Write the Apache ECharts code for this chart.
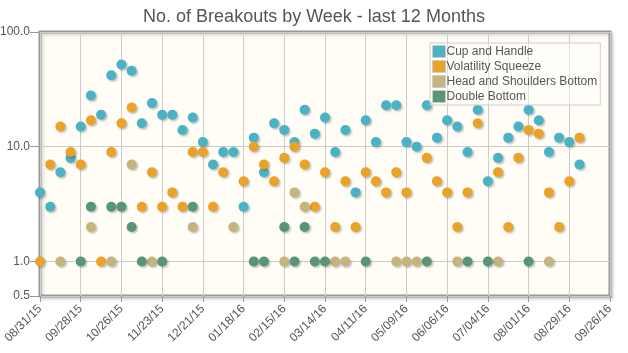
<!DOCTYPE html>
<html>
<head>
<meta charset="utf-8">
<script src="https://cdn.jsdelivr.net/npm/echarts@6/dist/echarts.min.js"></script>
<style>
  html, body { margin: 0; padding: 0; background: #fff; }
  #chart { width: 628px; height: 353px; }
</style>
</head>
<body>
<div id="chart"></div>
<script>
// tick labels, one every 4 weeks (x value = week index from 08/31/15)
const tickLabels = ['08/31/15', '09/28/15', '10/26/15', '11/23/15', '12/21/15', '01/18/16', '02/15/16',
  '03/14/16', '04/11/16', '05/09/16', '06/06/16', '07/04/16', '08/01/16', '08/29/16', '09/26/16'];

const seriesNames = ['Cup and Handle', 'Volatility Squeeze', 'Head and Shoulders Bottom', 'Double Bottom'];

// weekly counts, weeks 0..53
const cupHandle = [
  4, 3, 6, 8, 15, 28, 19, 42, 52, 46,
  16, 24, 19, 19, 14, 18, 11, 7, 9, 9,
  3, 12, 6, 16, 14, 11, 21, 13, 18, 9,
  14, 4, 17, 11, 23, 23, 11, 10, 23, 12,
  17, 15, 9, 21, 5, 8, 12, 15, 21, 17,
  9, 12, 11, 7];
const volSqueeze = [
  1, 7, 15, 9, 7, 17, 1, 9, 16, 22,
  3, 6, 3, 4, 3, 9, 9, 3, 6, null,
  5, 10, 7, 5, 8, 10, 7, 3, 6, 2,
  5, 2, 6, 5, 4, 6, 4, null, 8, 5,
  4, 2, 4, 16, null, 6, 2, 8, 14, 13,
  4, 2, 5, 12];
const headShoulders = [
  null, null, 1, null, null, 2, null, 1, null, 7,
  null, 1, null, null, null, 2, null, null, null, 2,
  null, null, null, null, 1, 4, 3, null, null, 1,
  1, null, null, null, null, 1, 1, 1, null, null,
  null, 1, null, null, null, 1, null, null, null, null,
  1, null, null, null];
const doubleBottom = [
  null, null, null, null, 1, 3, null, 3, 3, 2,
  1, null, 1, null, null, 3, null, null, null, null,
  null, 1, 1, null, 2, 1, 2, 1, 1, null,
  null, null, 1, null, null, null, null, null, 1, null,
  null, null, 1, null, 1, null, null, null, 1, null,
  null, null, null, null];

const colors = ['#4bb2c5', '#eaa228', '#c5b47f', '#579575'];

function toPoints(arr) {
  const out = [];
  arr.forEach((v, i) => { if (v != null) out.push([i, v]); });
  return out;
}

const chart = echarts.init(document.getElementById('chart'));
const font = 'Liberation Sans, Arial, sans-serif';

chart.setOption({
  animation: false,
  color: colors,
  textStyle: { fontFamily: font },
  title: {
    text: 'No. of Breakouts by Week - last 12 Months',
    left: 'center',
    top: 3,
    textStyle: { fontSize: 18, fontWeight: 'normal', color: '#555', fontFamily: font }
  },
  legend: {
    orient: 'vertical',
    left: 430,
    top: 43,
    icon: 'rect',
    itemWidth: 13,
    itemHeight: 12,
    itemGap: 2,
    padding: [2, 3, 2, 2],
    borderColor: '#ccc',
    borderWidth: 1,
    backgroundColor: 'rgba(255,255,255,0.4)',
    itemStyle: { borderColor: '#ccc', borderWidth: 1 },
    textStyle: { fontSize: 12, color: '#555', padding: [0, 0, 0, -4] },
    data: seriesNames
  },
  grid: {
    left: 40, right: 18, top: 32, bottom: 57,
    outerBoundsMode: 'none',
    containLabel: false,
    show: true,
    backgroundColor: '#fffdf6',
    borderColor: '#999',
    borderWidth: 3,
    shadowColor: 'rgba(0,0,0,0.15)',
    shadowBlur: 3,
    shadowOffsetX: 2,
    shadowOffsetY: 2
  },
  xAxis: {
    type: 'value',
    min: 0,
    max: 56,
    interval: 4,
    axisLine: { show: false },
    axisTick: { show: true, length: 6, lineStyle: { color: '#999' } },
    splitLine: { show: true, lineStyle: { color: '#ccc', width: 1 } },
    axisLabel: {
      rotate: 45,
      fontSize: 12,
      color: '#555',
      margin: 11,
      formatter: v => tickLabels[Math.round(v / 4)]
    }
  },
  yAxis: {
    type: 'log',
    logBase: 10,
    min: 0.5,
    max: 100,
    axisLine: { show: false },
    axisTick: { show: true, length: 10, lineStyle: { color: '#999' } },
    splitLine: { show: true, lineStyle: { color: '#ccc', width: 1 } },
    minorSplitLine: { show: false },
    axisLabel: {
      fontSize: 12,
      color: '#555',
      margin: 10,
      formatter: v => Number(v).toFixed(1)
    }
  },
  series: [cupHandle, volSqueeze, headShoulders, doubleBottom].map((arr, k) => ({
    name: seriesNames[k],
    type: 'scatter',
    symbol: 'circle',
    symbolSize: 10,
    data: toPoints(arr),
    itemStyle: {
      color: colors[k],
      opacity: 1,
      shadowColor: 'rgba(0,0,0,0.25)',
      shadowBlur: 2,
      shadowOffsetX: 1.5,
      shadowOffsetY: 1.5
    }
  }))
});
</script>
</body>
</html>
